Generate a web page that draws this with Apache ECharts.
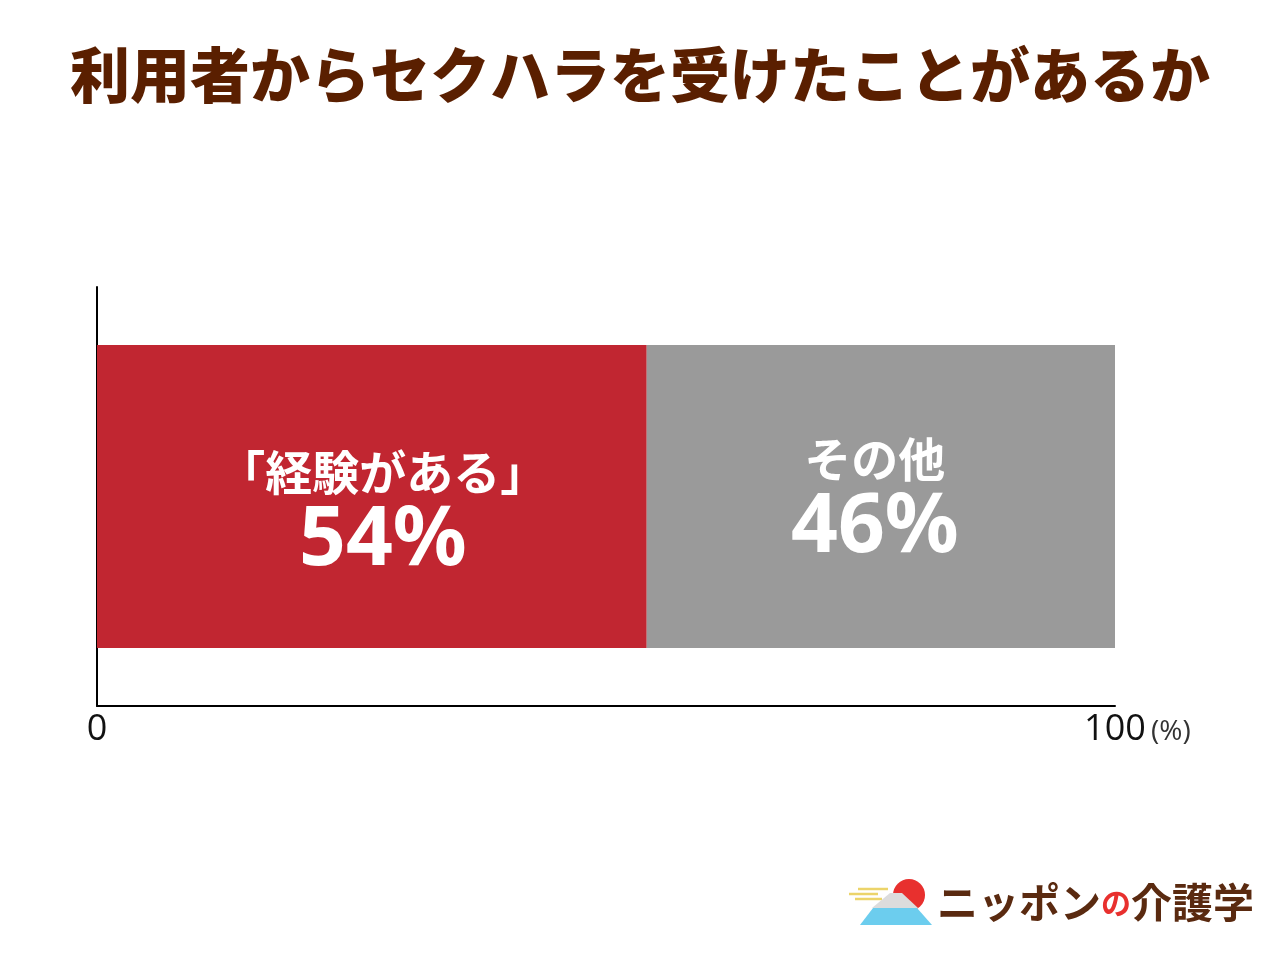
<!DOCTYPE html>
<html><head><meta charset="utf-8">
<script src="https://cdn.jsdelivr.net/npm/echarts@6/dist/echarts.min.js"></script>
<style>html,body{margin:0;padding:0;background:#fff}#c{width:1280px;height:960px}</style>
</head><body><div id="c"></div>
<script>
const categories = ['利用者'];
const seriesNames = ['「経験がある」', 'その他'];
const experienced = [54];
const other = [46];
const xTicks = [0, 100];

const chart = echarts.init(document.getElementById('c'));
const F = '"Noto Sans CJK JP","Noto Sans",sans-serif';
const richLabel = {
  n: { fontFamily: F, fontWeight: 'bold', fontSize: 47, color: '#fff', lineHeight: 62 },
  v: { fontFamily: '"Noto Sans",' + F, fontWeight: 'bold', fontSize: 82, color: '#fff', lineHeight: 76 }
};
chart.setOption({
  backgroundColor: '#fff',
  animation: false,
  title: {
    text: '利用者からセクハラを受けたことがあるか',
    left: 'center', top: 40,
    textStyle: { fontFamily: F, fontWeight: 900, fontSize: 60, color: '#5a1f00' }
  },
  grid: { left: 97, right: 165, top: 287, bottom: 254 },
  xAxis: {
    type: 'value', min: xTicks[0], max: xTicks[1], interval: 100,
    axisLine: { show: true, lineStyle: { color: '#000', width: 2 } },
    axisTick: { show: false }, splitLine: { show: false },
    axisLabel: {
      margin: 6,
      formatter: v => v === 100 ? '{p|}{a|100}{b|(%)}' : '{a|' + v + '}',
      rich: {
        a: { fontFamily: '"Open Sans",sans-serif', fontSize: 36, color: '#111' },
        p: { width: 50 },
        b: { fontFamily: '"Open Sans",sans-serif', fontSize: 28, color: '#333', width: 50, padding: [4,0,0,0] }
      },
      align: 'center'
    }
  },
  yAxis: {
    type: 'category', data: categories,
    axisLine: { show: true, lineStyle: { color: '#000', width: 2 } },
    axisTick: { show: false }, axisLabel: { show: false }
  },
  series: [
    {
      name: seriesNames[0], type: 'bar', stack: 't', data: experienced, barWidth: 303,
      itemStyle: { color: '#c12631' },
      label: {
        show: true, position: 'inside', offset: [11, 14],
        formatter: p => '{n|' + p.seriesName + '}\n{v|' + p.value + '%}',
        rich: richLabel
      }
    },
    {
      name: seriesNames[1], type: 'bar', stack: 't', data: other, barWidth: 303,
      itemStyle: { color: '#9a9a9a' },
      label: {
        show: true, position: 'inside', offset: [-6, 1],
        formatter: p => '{n|' + p.seriesName + '}\n{v|' + p.value + '%}',
        rich: richLabel
      }
    }
  ],
  graphic: [
    { type: 'line', shape: { x1: 858, y1: 889, x2: 888, y2: 889 }, style: { stroke: '#ecd46a', lineWidth: 2.5 } },
    { type: 'line', shape: { x1: 849, y1: 894, x2: 878, y2: 894 }, style: { stroke: '#ecd46a', lineWidth: 2.5 } },
    { type: 'line', shape: { x1: 855, y1: 899, x2: 882, y2: 899 }, style: { stroke: '#ecd46a', lineWidth: 2.5 } },
    { type: 'circle', shape: { cx: 909, cy: 895, r: 16 }, style: { fill: '#e8302e' } },
    { type: 'polygon', shape: { points: [[890, 893], [902, 893], [918, 908], [872, 908]] }, style: { fill: '#dcdcdc' } },
    { type: 'polygon', shape: { points: [[873, 908], [917, 908], [932, 925], [860, 925]] }, style: { fill: '#6ccdee' } },
    { type: 'text', left: 937, top: 882, style: {
        text: '{a|ニッポン}{b|の}{a|介護学}',
        rich: {
          a: { fontFamily: F, fontWeight: 'bold', fontSize: 41, fill: '#5a2a10' },
          b: { fontFamily: F, fontWeight: 'bold', fontSize: 30, fill: '#e8302e' }
        }
      } }
  ]
});
</script></body></html>
